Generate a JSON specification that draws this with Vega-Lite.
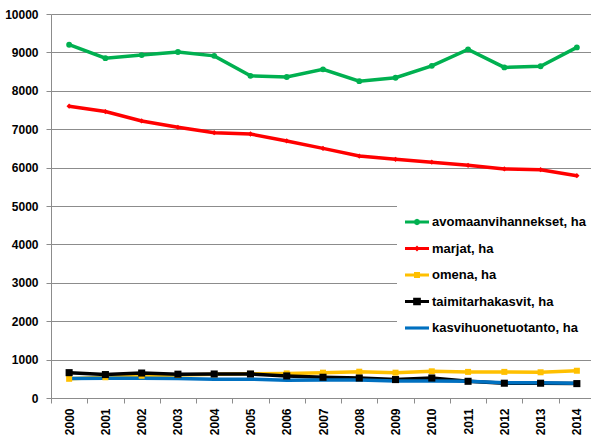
{
  "$schema": "https://vega.github.io/schema/vega-lite/v6.json",
  "autosize": {"type": "none"},
  "width": 540,
  "height": 384,
  "padding": {"left": 51, "top": 14, "right": 0, "bottom": 38},
  "background": "white",
  "config": {
    "view": {"stroke": null},
    "axis": {"labelFont": "Liberation Sans", "labelFontWeight": "bold", "labelFontSize": 12, "labelColor": "#000000", "domainColor": "#8c8c8c", "tickColor": "#8c8c8c", "gridColor": "#8c8c8c", "title": null},
    "legend": {"orient": "none", "legendX": 346, "legendY": 188,
            "fillColor": "white", "padding": 8, "symbolSize": 576, "symbolStrokeWidth": 0,
            "labelFont": "Liberation Sans", "labelFontWeight": "bold", "labelFontSize": 13, "labelColor": "#000000",
            "labelOffset": 3, "rowPadding": 7.5, "symbolOpacity": 1, "title": null}
  },
  "data": {"values": [
    {"year": 2000, "series": "avomaanvihannekset, ha", "value": 9200},
    {"year": 2001, "series": "avomaanvihannekset, ha", "value": 8850},
    {"year": 2002, "series": "avomaanvihannekset, ha", "value": 8930},
    {"year": 2003, "series": "avomaanvihannekset, ha", "value": 9010},
    {"year": 2004, "series": "avomaanvihannekset, ha", "value": 8910},
    {"year": 2005, "series": "avomaanvihannekset, ha", "value": 8390},
    {"year": 2006, "series": "avomaanvihannekset, ha", "value": 8360},
    {"year": 2007, "series": "avomaanvihannekset, ha", "value": 8560},
    {"year": 2008, "series": "avomaanvihannekset, ha", "value": 8250},
    {"year": 2009, "series": "avomaanvihannekset, ha", "value": 8340},
    {"year": 2010, "series": "avomaanvihannekset, ha", "value": 8650},
    {"year": 2011, "series": "avomaanvihannekset, ha", "value": 9080},
    {"year": 2012, "series": "avomaanvihannekset, ha", "value": 8610},
    {"year": 2013, "series": "avomaanvihannekset, ha", "value": 8640},
    {"year": 2014, "series": "avomaanvihannekset, ha", "value": 9130},
    {"year": 2000, "series": "marjat, ha", "value": 7600},
    {"year": 2001, "series": "marjat, ha", "value": 7460},
    {"year": 2002, "series": "marjat, ha", "value": 7215},
    {"year": 2003, "series": "marjat, ha", "value": 7050},
    {"year": 2004, "series": "marjat, ha", "value": 6910},
    {"year": 2005, "series": "marjat, ha", "value": 6875},
    {"year": 2006, "series": "marjat, ha", "value": 6695},
    {"year": 2007, "series": "marjat, ha", "value": 6500},
    {"year": 2008, "series": "marjat, ha", "value": 6300},
    {"year": 2009, "series": "marjat, ha", "value": 6215},
    {"year": 2010, "series": "marjat, ha", "value": 6140},
    {"year": 2011, "series": "marjat, ha", "value": 6060},
    {"year": 2012, "series": "marjat, ha", "value": 5965},
    {"year": 2013, "series": "marjat, ha", "value": 5945},
    {"year": 2014, "series": "marjat, ha", "value": 5790},
    {"year": 2000, "series": "omena, ha", "value": 500},
    {"year": 2001, "series": "omena, ha", "value": 540},
    {"year": 2002, "series": "omena, ha", "value": 580},
    {"year": 2003, "series": "omena, ha", "value": 600},
    {"year": 2004, "series": "omena, ha", "value": 620},
    {"year": 2005, "series": "omena, ha", "value": 630},
    {"year": 2006, "series": "omena, ha", "value": 640},
    {"year": 2007, "series": "omena, ha", "value": 660},
    {"year": 2008, "series": "omena, ha", "value": 685},
    {"year": 2009, "series": "omena, ha", "value": 660},
    {"year": 2010, "series": "omena, ha", "value": 695},
    {"year": 2011, "series": "omena, ha", "value": 680},
    {"year": 2012, "series": "omena, ha", "value": 680},
    {"year": 2013, "series": "omena, ha", "value": 670},
    {"year": 2014, "series": "omena, ha", "value": 710},
    {"year": 2000, "series": "taimitarhakasvit, ha", "value": 660},
    {"year": 2001, "series": "taimitarhakasvit, ha", "value": 610},
    {"year": 2002, "series": "taimitarhakasvit, ha", "value": 650},
    {"year": 2003, "series": "taimitarhakasvit, ha", "value": 620},
    {"year": 2004, "series": "taimitarhakasvit, ha", "value": 625},
    {"year": 2005, "series": "taimitarhakasvit, ha", "value": 625},
    {"year": 2006, "series": "taimitarhakasvit, ha", "value": 575},
    {"year": 2007, "series": "taimitarhakasvit, ha", "value": 540},
    {"year": 2008, "series": "taimitarhakasvit, ha", "value": 520},
    {"year": 2009, "series": "taimitarhakasvit, ha", "value": 480},
    {"year": 2010, "series": "taimitarhakasvit, ha", "value": 520},
    {"year": 2011, "series": "taimitarhakasvit, ha", "value": 435},
    {"year": 2012, "series": "taimitarhakasvit, ha", "value": 385},
    {"year": 2013, "series": "taimitarhakasvit, ha", "value": 385},
    {"year": 2014, "series": "taimitarhakasvit, ha", "value": 375},
    {"year": 2000, "series": "kasvihuonetuotanto, ha", "value": 510},
    {"year": 2001, "series": "kasvihuonetuotanto, ha", "value": 515},
    {"year": 2002, "series": "kasvihuonetuotanto, ha", "value": 515},
    {"year": 2003, "series": "kasvihuonetuotanto, ha", "value": 510},
    {"year": 2004, "series": "kasvihuonetuotanto, ha", "value": 490},
    {"year": 2005, "series": "kasvihuonetuotanto, ha", "value": 490},
    {"year": 2006, "series": "kasvihuonetuotanto, ha", "value": 460},
    {"year": 2007, "series": "kasvihuonetuotanto, ha", "value": 470},
    {"year": 2008, "series": "kasvihuonetuotanto, ha", "value": 470},
    {"year": 2009, "series": "kasvihuonetuotanto, ha", "value": 440},
    {"year": 2010, "series": "kasvihuonetuotanto, ha", "value": 440},
    {"year": 2011, "series": "kasvihuonetuotanto, ha", "value": 435},
    {"year": 2012, "series": "kasvihuonetuotanto, ha", "value": 395},
    {"year": 2013, "series": "kasvihuonetuotanto, ha", "value": 395},
    {"year": 2014, "series": "kasvihuonetuotanto, ha", "value": 385}
  ]},
  "encoding": {
    "x": {"field": "year", "type": "ordinal", "bandPosition": 0.5,
      "scale": {"type": "band", "paddingInner": 0, "paddingOuter": 0, "range": [0, 544]},
      "axis": {"labelAngle": -90, "tickBand": "extent", "grid": false, "tickSize": 5, "labelPadding": 5}},
    "y": {"field": "value", "type": "quantitative",
      "scale": {"domain": [0, 10000], "nice": false},
      "axis": {"values": [0, 1000, 2000, 3000, 4000, 5000, 6000, 7000, 8000, 9000, 10000], "format": "d", "grid": true, "tickSize": 5, "labelPadding": 8}}
  },
  "layer": [
    {
      "mark": {"type": "line", "strokeWidth": 3.5},
      "encoding": {
        "color": {"field": "series", "type": "nominal",
          "scale": {"domain": ["avomaanvihannekset, ha", "marjat, ha", "omena, ha", "taimitarhakasvit, ha", "kasvihuonetuotanto, ha"],
                    "range": ["#00B050", "#FF0000", "#FFC000", "#000000", "#0070C0"]}}
      }
    },
    {
      "transform": [{"filter": "datum.series == 'avomaanvihannekset, ha'"}],
      "mark": {"type": "point", "shape": "circle", "filled": true, "opacity": 1, "size": 34, "color": "#00B050"}
    },
    {
      "transform": [{"filter": "datum.series == 'marjat, ha'"}],
      "mark": {"type": "point", "shape": "diamond", "filled": true, "opacity": 1, "size": 28, "color": "#FF0000"}
    },
    {
      "transform": [{"filter": "datum.series == 'omena, ha'"}],
      "mark": {"type": "point", "shape": "square", "filled": true, "opacity": 1, "size": 36, "color": "#FFC000"}
    },
    {
      "transform": [{"filter": "datum.series == 'taimitarhakasvit, ha'"}],
      "mark": {"type": "point", "shape": "square", "filled": true, "opacity": 1, "size": 50, "color": "#000000"}
    },
    {
      "transform": [{"filter": "datum.year == 2000"}],
      "mark": {"type": "point", "filled": true, "opacity": 0, "strokeWidth": 0},
      "encoding": {
        "shape": {"field": "series", "type": "nominal",
          "scale": {"domain": ["avomaanvihannekset, ha", "marjat, ha", "omena, ha", "taimitarhakasvit, ha", "kasvihuonetuotanto, ha"],
                    "range": [
                      "M-1,-0.13H1V0.13H-1Z M0,-0.27L0.19,-0.19L0.27,0L0.19,0.19L0,0.27L-0.19,0.19L-0.27,0L-0.19,-0.19Z",
                      "M-1,-0.13H1V0.13H-1Z M0,-0.24L0.24,0L0,0.24L-0.24,0Z",
                      "M-1,-0.13H1V0.13H-1Z M-0.25,-0.25H0.25V0.25H-0.25Z",
                      "M-1,-0.13H1V0.13H-1Z M-0.32,-0.32H0.32V0.32H-0.32Z",
                      "M-1,-0.13H1V0.13H-1Z"
                    ]},
          "legend": {"encode": {"symbols": {"update": {"opacity": {"value": 1}, "fillOpacity": {"value": 1}}}}}},
        "color": {"field": "series", "type": "nominal",
          "legend": {"encode": {"symbols": {"update": {"opacity": {"value": 1}, "fillOpacity": {"value": 1}}}}}}
      }
    }
  ]
}
